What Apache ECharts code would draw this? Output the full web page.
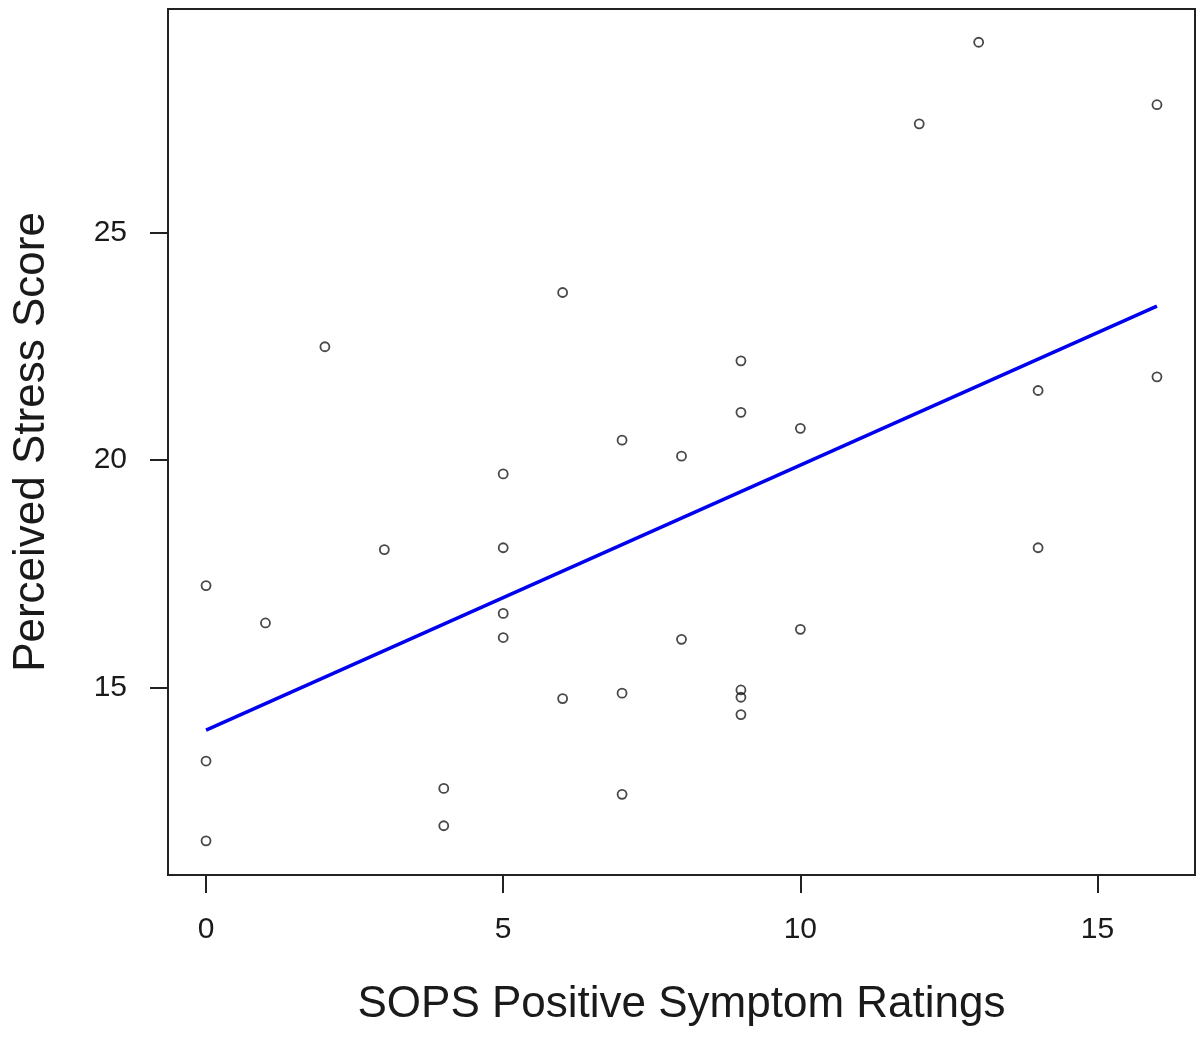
<!DOCTYPE html>
<html>
<head>
<meta charset="utf-8">
<script src="https://cdn.jsdelivr.net/npm/echarts@6/dist/echarts.min.js"></script>
<style>
  html, body { margin: 0; padding: 0; background: #fff; }
  #chart { width: 1201px; height: 1038px; }
</style>
</head>
<body>
<div id="chart"></div>
<script>
// SOPS positive symptom rating (x) vs perceived stress score (y)
let sopsScores = [0, 0, 0, 1, 2, 3, 4, 4, 5, 5, 5, 5, 6, 6, 7, 7, 7, 8, 8, 9, 9, 9, 9, 9, 10, 10, 12, 13, 14, 14, 16, 16]
let stressScores = [17.25, 13.4, 11.65, 16.43, 22.49, 18.04, 12.8, 11.98, 19.7, 18.08, 16.64, 16.11, 23.68, 14.77, 20.44, 14.89, 12.67, 20.09, 16.07, 22.18, 21.05, 14.96, 14.8, 14.42, 20.7, 16.29, 27.38, 29.17, 21.53, 18.08, 27.8, 21.83]

// fitted regression line, end points
let fitX = [0, 16]
let fitY = [14.08, 23.38]

let xTicks = [0, 5, 10, 15]
let yTicks = [15, 20, 25]

let points = sopsScores.map((x, i) => [x, stressScores[i]])
let fitLine = fitX.map((x, i) => [x, fitY[i]])

let font = 'Liberation Sans, Arial, sans-serif'
let ink = '#1a1a1a'

let option = {
  animation: false,
  backgroundColor: '#fff',
  grid: {
    left: 168, right: 6, top: 9, bottom: 163,
    show: true, borderColor: '#222', borderWidth: 2
  },
  xAxis: {
    type: 'value',
    min: -0.64, max: 16.64,
    splitLine: { show: false },
    axisLine: { show: false, onZero: false },
    axisTick: { show: true, inside: false, length: 18, customValues: xTicks, lineStyle: { color: '#222', width: 2 } },
    axisLabel: { customValues: xTicks, margin: 40, fontSize: 30, color: ink, fontFamily: font },
    name: 'SOPS Positive Symptom Ratings',
    nameLocation: 'middle',
    nameGap: 108,
    nameTextStyle: { fontSize: 44, color: ink, fontFamily: font }
  },
  yAxis: {
    type: 'value',
    min: 10.9, max: 29.9,
    splitLine: { show: false },
    axisLine: { show: false, onZero: false },
    axisTick: { show: true, inside: false, length: 18, customValues: yTicks, lineStyle: { color: '#222', width: 2 } },
    axisLabel: { customValues: yTicks, margin: 41, fontSize: 30, color: ink, fontFamily: font },
    name: 'Perceived Stress Score',
    nameLocation: 'middle',
    nameRotate: 90,
    nameGap: 114,
    nameTextStyle: { fontSize: 44, color: ink, fontFamily: font }
  },
  series: [
    {
      type: 'scatter',
      data: points,
      symbol: 'circle',
      symbolSize: 9,
      itemStyle: { color: 'rgba(0,0,0,0)', borderColor: '#1a1a1a', borderWidth: 1.8 },
      z: 3
    },
    {
      type: 'line',
      data: fitLine,
      symbol: 'none',
      lineStyle: { color: '#0000ee', width: 3.5 },
      z: 2
    }
  ]
}

let chart = echarts.init(document.getElementById('chart'))
chart.setOption(option)
</script>
</body>
</html>
